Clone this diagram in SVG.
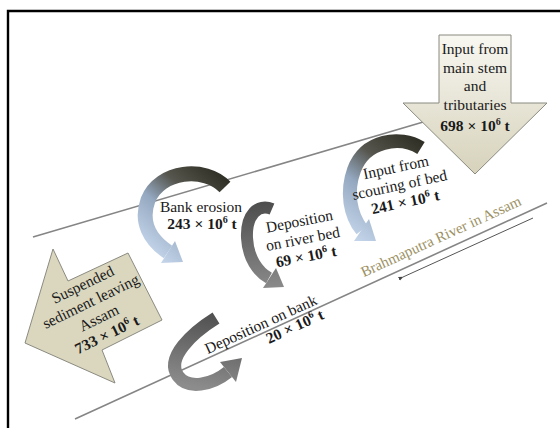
<svg xmlns="http://www.w3.org/2000/svg" width="560" height="428" viewBox="0 0 560 428">
<defs>
<style>
.t{font-family:"Liberation Serif","Times New Roman",serif;font-size:15.5px;fill:#1a1a1a;text-anchor:middle}
.b{font-weight:bold}
.bank{fill:none;stroke:#858585;stroke-width:1.6}
.box{stroke:#8a8a80;stroke-width:1}
</style>
<linearGradient id="gIn" x1="0" y1="0" x2="0" y2="1">
<stop offset="0" stop-color="#f8f7f1"/><stop offset="1" stop-color="#d6d2bb"/>
</linearGradient>
<linearGradient id="gBlue1" gradientUnits="userSpaceOnUse" x1="228" y1="178" x2="158" y2="258">
<stop offset="0" stop-color="#2e2e24"/><stop offset="0.35" stop-color="#56564e"/><stop offset="0.62" stop-color="#94a8c0"/><stop offset="1" stop-color="#c4d5ea"/>
</linearGradient>
<linearGradient id="gBlue2" gradientUnits="userSpaceOnUse" x1="424" y1="142" x2="352" y2="236">
<stop offset="0" stop-color="#2e2e24"/><stop offset="0.35" stop-color="#56564e"/><stop offset="0.62" stop-color="#94a8c0"/><stop offset="1" stop-color="#c4d5ea"/>
</linearGradient>
<linearGradient id="gGray1" gradientUnits="userSpaceOnUse" x1="265" y1="203" x2="270" y2="288">
<stop offset="0" stop-color="#4e4e4e"/><stop offset="1" stop-color="#8a8a8a"/>
</linearGradient>
<linearGradient id="gGray2" gradientUnits="userSpaceOnUse" x1="214" y1="314" x2="200" y2="388">
<stop offset="0" stop-color="#505050"/><stop offset="1" stop-color="#8c8c8c"/>
</linearGradient>
<marker id="ah" viewBox="0 0 10 10" refX="1" refY="5" markerWidth="5" markerHeight="5" orient="auto-start-reverse">
<path d="M10,1 L0,5 L10,9 z" fill="#444"/>
</marker>
</defs>
<rect width="560" height="428" fill="#fff"/>
<path d="M8,432 V11 H562" fill="none" stroke="#000" stroke-width="2.4"/>

<g id="connectors">
<line class="bank" x1="33" y1="237" x2="430" y2="120"/>
<line class="bank" x1="75" y1="419" x2="547" y2="203"/>
<line x1="533" y1="218" x2="403" y2="277" stroke="#555" stroke-width="1" marker-end="url(#ah)"/>
</g>

<g id="river-label">
<text class="t" transform="translate(443,241) rotate(-24.6)" style="fill:#9c9163;font-size:15px">Brahmaputra River in Assam</text>
</g>

<g id="input-main">
<polygon class="box" fill="url(#gIn)" points="439,35 511,35 511,103 547,103 475,174 403,103 439,103"/>
<text class="t" x="475" y="54">Input from</text>
<text class="t" x="475" y="72.5">main stem</text>
<text class="t" x="475" y="91">and</text>
<text class="t" x="475" y="109.5">tributaries</text>
<text class="t b" x="475" y="131">698 × 10<tspan font-size="10" dy="-6">6</tspan><tspan dy="6"> t</tspan></text>
</g>

<g id="suspended-out">
<polygon class="box" fill="#dbd7bf" points="25,343 53,249 68,281 128,253 162,320 102,350 115,383"/>
<g transform="translate(95,310) rotate(-26)">
<text class="t" x="0" y="-23">Suspended</text>
<text class="t" x="0" y="-4.5">sediment leaving</text>
<text class="t" x="0" y="14">Assam</text>
<text class="t b" x="0" y="32.5">733 × 10<tspan font-size="10" dy="-6">6</tspan><tspan dy="6"> t</tspan></text>
</g>
</g>

<g id="bank-erosion">
<path d="M225,187 C205,166 160,170 148,200 C140,222 150,240 168,252" fill="none" stroke="url(#gBlue1)" stroke-width="15"/>
<polygon fill="url(#gBlue1)" points="161,263 175,241 183,262"/>
<text class="t" x="201" y="212">Bank erosion</text>
<text class="t b" x="202" y="229">243 × 10<tspan font-size="10" dy="-6">6</tspan><tspan dy="6"> t</tspan></text>
</g>

<g id="deposition-bed">
<path d="M272,209 C258,203 246,215 247,238 C248,258 258,272 269,278" fill="none" stroke="url(#gGray1)" stroke-width="12"/>
<polygon fill="url(#gGray1)" points="263,288 276,268 284,287"/>
<g transform="translate(303,240) rotate(-11)">
<text class="t" x="0" y="-14">Deposition</text>
<text class="t" x="0" y="4">on river bed</text>
<text class="t b" x="0" y="22">69 × 10<tspan font-size="10" dy="-6">6</tspan><tspan dy="6"> t</tspan></text>
</g>
</g>

<g id="scouring">
<path d="M421,148 C400,135 365,140 354,170 C346,192 350,215 362,230" fill="none" stroke="url(#gBlue2)" stroke-width="14"/>
<polygon fill="url(#gBlue2)" points="354,241 369,219 376,241"/>
<g transform="translate(400,187) rotate(-12)">
<text class="t" x="0" y="-15">Input from</text>
<text class="t" x="0" y="3">scouring of bed</text>
<text class="t b" x="2" y="21">241 × 10<tspan font-size="10" dy="-6">6</tspan><tspan dy="6"> t</tspan></text>
</g>
</g>

<g id="deposition-bank">
<path d="M216,318 C192,333 165,358 178,376 C188,390 212,385 228,372" fill="none" stroke="url(#gGray2)" stroke-width="13"/>
<polygon fill="url(#gGray2)" points="236,382 220,362 242,358"/>
<g transform="translate(263,329) rotate(-24.6)">
<text class="t" x="0" y="0">Deposition on bank</text>
<text class="t b" x="30" y="16">20 × 10<tspan font-size="10" dy="-6">6</tspan><tspan dy="6"> t</tspan></text>
</g>
</g>
</svg>
